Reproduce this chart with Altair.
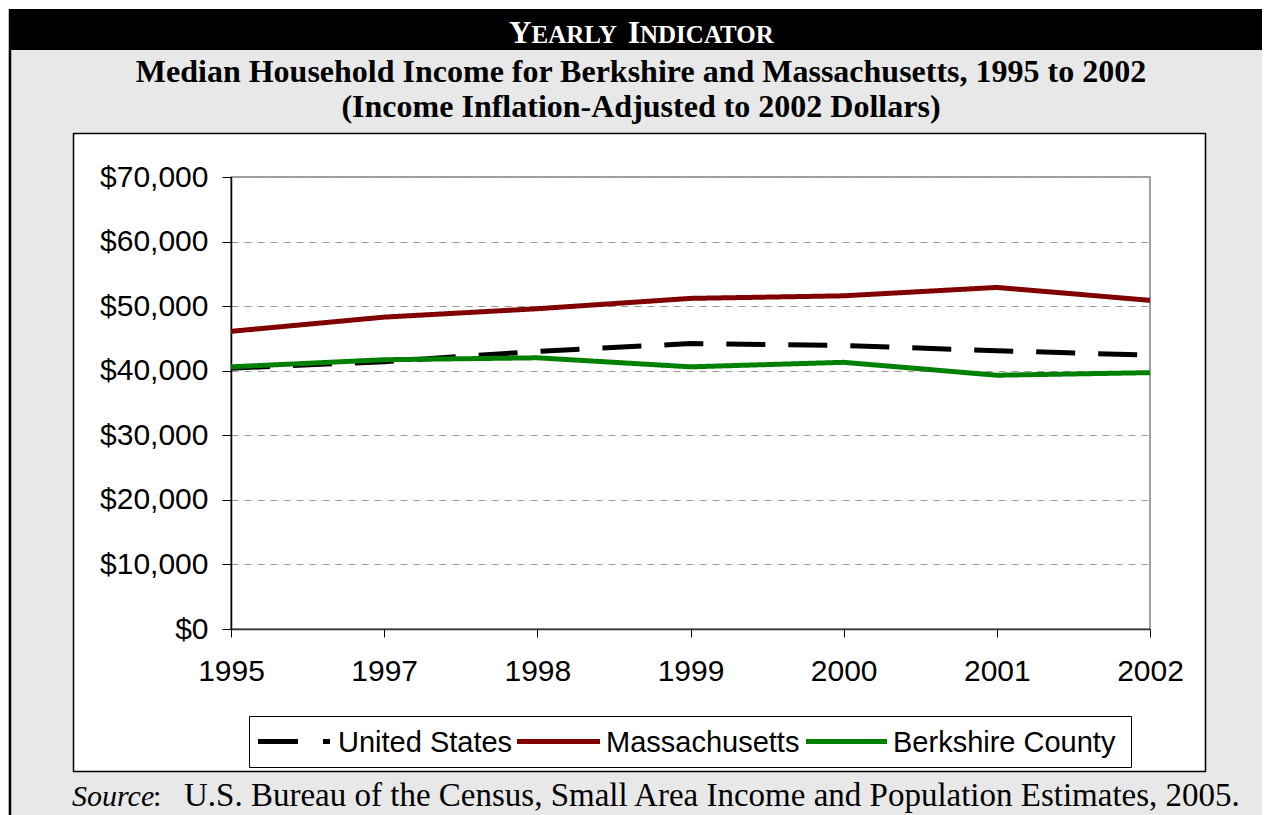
import altair as alt
import pandas as pd

# ---------------- data ----------------
years = ["1995", "1997", "1998", "1999", "2000", "2001", "2002"]
us_income = [40400, 41400, 43000, 44200, 43900, 43100, 42400]
ma_income = [46100, 48300, 49600, 51200, 51600, 52900, 50900]
berk_income = [40600, 41700, 42000, 40600, 41300, 39300, 39700]
series = ["United States", "Massachusetts", "Berkshire County"]
series_colors = ["#000000", "#800000", "#008000"]
series_dashes = [[39, 23], [1, 0], [1, 0]]
y_ticks = [0, 10000, 20000, 30000, 40000, 50000, 60000, 70000]

rows = []
for name, vals in zip(series, [us_income, ma_income, berk_income]):
    for yr, v in zip(years, vals):
        rows.append({"Year": yr, "Income": v, "Series": name})
df = pd.DataFrame(rows)

# ---------------- layout helpers (page px -> plot px) ----------------
PX0, PY0 = 231, 177
W, H = 919, 452


def px(x):
    return x - PX0


def py(y):
    return y - PY0


dummy = pd.DataFrame({"d": [0]})
GRAY = "#e8e8e8"


def rect(x1, y1, x2, y2, color, stroke=None, sw=0):
    kw = dict(color=color, clip=False)
    if stroke:
        kw.update(stroke=stroke, strokeWidth=sw)
    return alt.Chart(dummy).mark_rect(**kw).encode(
        x=alt.value(px(x1)), x2=alt.value(px(x2)),
        y=alt.value(py(y1)), y2=alt.value(py(y2)))


def vrule(x, y1, y2, color, w):
    return alt.Chart(dummy).mark_rule(color=color, strokeWidth=w, clip=False).encode(
        x=alt.value(px(x)), y=alt.value(py(y1)), y2=alt.value(py(y2)))


def hrule(y, x1, x2, color, w, dash=None):
    kw = dict(color=color, strokeWidth=w, clip=False)
    if dash:
        kw["strokeDash"] = dash
    return alt.Chart(dummy).mark_rule(**kw).encode(
        y=alt.value(py(y)), x=alt.value(px(x1)), x2=alt.value(px(x2)))


def text(t, x, y, size, color="black", weight="normal", style="normal",
         align="left", font="Liberation Serif"):
    return alt.Chart(dummy).mark_text(
        text=t, fontSize=size, font=font, fontWeight=weight, fontStyle=style,
        color=color, align=align, baseline="alphabetic", clip=False).encode(
        x=alt.value(px(x)), y=alt.value(py(y)))


decor = [
    rect(8, 50, 1270, 133, GRAY),     # gray band under header
    rect(8, 133, 73, 815, GRAY),      # left gray
    rect(1206, 133, 1270, 815, GRAY),  # right gray
    rect(73, 772, 1206, 815, GRAY),   # bottom gray
    rect(9, 9, 1270, 50, "black"),    # header bar
    vrule(10, 9, 815, "black", 2.5),  # outer left border
    vrule(73.5, 133, 772, "black", 1.5),
    vrule(1205.5, 133, 772, "black", 1.5),
    hrule(133.5, 73, 1206, "black", 1.5),
    hrule(771.5, 73, 1206, "black", 1.5),
]

lines = alt.Chart(df).mark_line(strokeWidth=5, clip=False).encode(
    x=alt.X("Year:O", sort=years, scale=alt.Scale(type="point", padding=0),
            axis=alt.Axis(title=None, labelAngle=0, labelFontSize=30,
                          labelFont="Liberation Sans", labelColor="black",
                          tickSize=8, tickColor="black", labelPadding=19,
                          domainColor="#333333", domainWidth=1.5, grid=False)),
    y=alt.Y("Income:Q", scale=alt.Scale(domain=[0, 70000], nice=False),
            axis=alt.Axis(title=None, values=y_ticks, format="$,.0f",
                          labelFontSize=30, labelFont="Liberation Sans",
                          labelColor="black", tickSize=9, tickColor="black",
                          labelPadding=14, domainColor="black", domainWidth=1.5,
                          grid=True, gridColor="#9a9a9a", gridDash=[7, 6],
                          gridWidth=1)),
    color=alt.Color("Series:N", sort=series,
                    scale=alt.Scale(domain=series, range=series_colors),
                    legend=None),
    strokeDash=alt.StrokeDash("Series:N", sort=series,
                              scale=alt.Scale(domain=series, range=series_dashes),
                              legend=None),
)

# ---------------- legend (drawn by hand, boxed) ----------------
legend_sym = [(258, 330), (517, 600), (806, 887)]
legend_lab = [338, 606, 893]
legend = [rect(249.5, 716.5, 1131.5, 767.5, "white", stroke="black", sw=1)]
for i, name in enumerate(series):
    x1, x2 = legend_sym[i]
    dash = [40, 25] if i == 0 else None
    legend.append(hrule(741.5, x1, x2, series_colors[i], 5, dash))
    legend.append(text(name, legend_lab[i], 752, 29, font="Liberation Sans"))

texts = [
    text("Y", 509, 43, 31, color="white", weight="bold"),
    text("EARLY", 531.5, 43, 25, color="white", weight="bold"),
    text("I", 628, 43, 31, color="white", weight="bold"),
    text("NDICATOR", 640, 43, 25, color="white", weight="bold"),
    text("Median Household Income for Berkshire and Massachusetts, 1995 to 2002",
         641, 82, 32, weight="bold", align="center"),
    text("(Income Inflation-Adjusted to 2002 Dollars)",
         641, 117, 32, weight="bold", align="center"),
    text("Source", 72, 806, 30, style="italic"),
    text(":", 153, 806, 30),
    text("U.S. Bureau of the Census, Small Area Income and Population Estimates, 2005.",
         184, 806, 33),
]

chart = alt.layer(*decor, lines, *legend, *texts).properties(
    width=W, height=H,
    padding={"left": 223, "top": 169, "right": 112, "bottom": 186},
    autosize=alt.AutoSizeParams(type="none"),
    background="white",
).configure_view(stroke="#808080", strokeWidth=1.5)

chart.save("out.html", embed_options={"renderer": "svg", "actions": False})
